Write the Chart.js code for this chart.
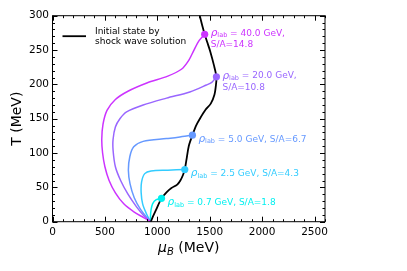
<!DOCTYPE html>
<html>
<head>
<meta charset="utf-8">
<script src="https://cdn.jsdelivr.net/npm/chart.js@4/dist/chart.umd.min.js"></script>
<style>
  html, body { margin: 0; padding: 0; background: #fff; }
</style>
</head>
<body>
<canvas id="myChart" width="407" height="271"></canvas>
<script>
// beam momenta and entropy per baryon for each trajectory
const beamLabels = ['40.0', '20.0', '5.0', '2.5', '0.7'];
const entropyLabels = ['14.8', '10.8', '6.7', '4.3', '1.8'];
const colors = ['#cc33ff', '#9966ff', '#6699ff', '#33ccff', '#00f0f0'];

// isentropic trajectories, mu_B (MeV) and T (MeV), starting at the initial state
const mu40 = [1452, 1400, 1350, 1300, 1230, 1100, 900, 720, 600, 520, 482, 470, 478, 500, 540, 600, 680, 780, 870, 935];
const t40  = [273, 264, 250, 235, 222, 212, 202, 190, 178, 162, 142, 120, 100, 80, 60, 42, 26, 14, 6, 0];
const mu20 = [1564, 1520, 1468, 1310, 1088, 865, 707, 643, 600, 578, 578, 600, 650, 720, 800, 870, 935];
const t20  = [211, 203, 199, 189, 180, 170, 160, 150, 138, 120, 104, 80, 60, 40, 22, 9, 0];
const mu5  = [1335, 1200, 1088, 865, 775, 738, 724, 740, 780, 840, 935];
const t5   = [126, 123, 121, 117, 109, 95, 75, 55, 35, 18, 0];
const mu25 = [1262, 1100, 940, 880, 850, 846, 860, 895, 935];
const t25  = [76, 75, 74, 70, 58, 42, 26, 12, 0];
const mu07 = [1040, 990, 955, 940, 935, 935];
const t07  = [34, 32, 26, 17, 8, 0];

// initial states from the shock wave solution
const muShock = [938, 960, 990, 1040, 1090, 1135, 1190, 1220, 1245, 1262, 1280, 1300, 1335, 1370, 1410, 1460, 1510, 1545, 1560, 1564, 1540, 1505, 1475, 1452, 1430, 1405, 1395];
const tShock  = [0, 8, 18, 34, 43, 49, 54, 60, 68, 76, 92, 110, 126, 140, 151, 163, 172, 185, 200, 211, 228, 248, 262, 273, 285, 300, 305];

const xTicks = [0, 500, 1000, 1500, 2000, 2500];
const yTicks = [0, 50, 100, 150, 200, 250, 300];

const curves = [[mu40, t40], [mu20, t20], [mu5, t5], [mu25, t25], [mu07, t07]];
const dotMu = curves.map(c => c[0][0]);
const dotT = curves.map(c => c[1][0]);

function toPoints(xs, ys) {
    return xs.map((v, i) => ({x: v, y: ys[i]}));
}

const FONT = '"DejaVu Sans", sans-serif';

let datasets = [];
datasets.push({
    data: toPoints(dotMu, dotT),
    showLine: false,
    pointRadius: 3.6,
    pointBorderWidth: 0,
    pointBackgroundColor: colors
});
datasets.push({
    data: toPoints(muShock, tShock),
    showLine: true,
    borderColor: '#000',
    borderWidth: 1.8,
    pointRadius: 0,
    tension: 0.3
});
for (let i = 0; i < curves.length; i++) {
    datasets.push({
        data: toPoints(curves[i][0], curves[i][1]),
        showLine: true,
        borderColor: colors[i],
        borderWidth: 1.5,
        pointRadius: 0,
        tension: 0.3
    });
}

// inward ticks, frame, titles, legend and annotations
const decor = {
    id: 'decor',
    afterDatasetsDraw(chart) {
        const c = chart.ctx;
        const a = chart.chartArea;
        const xs = chart.scales.x, ys = chart.scales.y;
        c.save();
        c.strokeStyle = '#000';
        c.lineWidth = 1;
        c.strokeRect(a.left, a.top, a.right - a.left, a.bottom - a.top);
        c.beginPath();
        for (let v = 0; v <= 2600; v += 100) {
            const px = Math.round(xs.getPixelForValue(v)) + 0.5;
            const len = v % 500 === 0 ? 5 : 2.5;
            c.moveTo(px, a.bottom); c.lineTo(px, a.bottom - len);
            c.moveTo(px, a.top); c.lineTo(px, a.top + len);
        }
        for (let v = 0; v <= 300; v += 10) {
            const py = Math.round(ys.getPixelForValue(v)) + 0.5;
            const len = v % 50 === 0 ? 5 : 2.5;
            c.moveTo(a.left, py); c.lineTo(a.left + len, py);
            c.moveTo(a.right, py); c.lineTo(a.right - len, py);
        }
        c.stroke();

        // axis titles
        c.fillStyle = '#000';
        c.textBaseline = 'middle';
        const xt = 'μ', xr = ' (MeV)';
        c.font = 'italic 14px ' + FONT;
        const w1 = c.measureText(xt).width;
        c.font = 'italic 10px ' + FONT;
        const w2 = c.measureText('B').width;
        c.font = '14px ' + FONT;
        const w3 = c.measureText(xr).width;
        let sx = (a.left + a.right) / 2 - (w1 + w2 + w3) / 2;
        const ty = 248;
        c.textAlign = 'left';
        c.font = 'italic 14px ' + FONT;
        c.fillText(xt, sx, ty);
        c.font = 'italic 10px ' + FONT;
        c.fillText('B', sx + w1, ty + 4);
        c.font = '14px ' + FONT;
        c.fillText(xr, sx + w1 + w2, ty);

        c.save();
        c.translate(17, (a.top + a.bottom) / 2);
        c.rotate(-Math.PI / 2);
        c.textAlign = 'center';
        c.fillText('T (MeV)', 0, 0);
        c.restore();

        // legend
        c.beginPath();
        c.lineWidth = 1.8;
        c.moveTo(a.left + 10, a.top + 20.5);
        c.lineTo(a.left + 33.5, a.top + 20.5);
        c.stroke();
        c.font = '9px ' + FONT;
        c.textAlign = 'left';
        c.fillText('Initial state by', a.left + 42.5, a.top + 15.5);
        c.fillText('shock wave solution', a.left + 42.5, a.top + 26);

        // annotations next to each initial state
        for (let i = 0; i < beamLabels.length; i++) {
            const px = xs.getPixelForValue(dotMu[i]) + 6;
            const py = ys.getPixelForValue(dotT[i]);
            c.fillStyle = colors[i];
            const twoLines = i < 2;
            const y1 = twoLines ? py - 1 : py + 4;
            c.font = 'italic 10.5px ' + FONT;
            c.fillText('ρ', px, y1);
            let x = px + c.measureText('ρ').width;
            c.font = '6.5px ' + FONT;
            c.fillText('lab', x, y1 + 2.5);
            x += c.measureText('lab').width;
            c.font = '9px ' + FONT;
            const rest = ' = ' + beamLabels[i] + ' GeV,';
            const sa = 'S/A=' + entropyLabels[i];
            if (twoLines) {
                c.fillText(rest, x, y1);
                c.fillText(sa, px, y1 + 11.7);
            } else {
                c.fillText(rest + ' ' + sa, x, y1);
            }
        }
        c.restore();
    }
};

const ctx = document.getElementById('myChart').getContext('2d');
const chart = new Chart(ctx, {
    type: 'scatter',
    data: { datasets: datasets },
    options: {
        responsive: false,
        animation: false,
        devicePixelRatio: 1,
        layout: { padding: { top: 15.7, right: 82, left: 0, bottom: 0 } },
        plugins: { legend: { display: false }, tooltip: { enabled: false } },
        scales: {
            x: {
                type: 'linear',
                min: 0,
                max: 2600,
                afterBuildTicks: s => { s.ticks = xTicks.map(v => ({value: v})); },
                afterFit: s => { s.height = 49.3; },
                grid: { display: false, drawTicks: false },
                border: { display: false },
                ticks: {
                    autoSkip: false,
                    maxRotation: 0,
                    padding: 4,
                    color: '#000',
                    font: { family: 'DejaVu Sans', size: 10.5 },
                    callback: v => String(v)
                }
            },
            y: {
                type: 'linear',
                min: 0,
                max: 300,
                afterBuildTicks: s => { s.ticks = yTicks.map(v => ({value: v})); },
                afterFit: s => { s.width = 52.5; },
                grid: { display: false, drawTicks: false },
                border: { display: false },
                ticks: {
                    padding: 3.5,
                    color: '#000',
                    font: { family: 'DejaVu Sans', size: 10.5 },
                    callback: v => String(v)
                }
            }
        }
    },
    plugins: [decor]
});
</script>
</body>
</html>
